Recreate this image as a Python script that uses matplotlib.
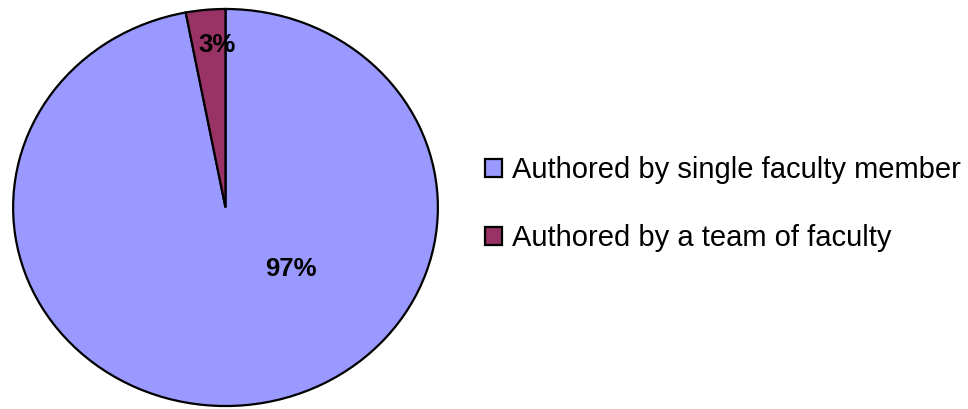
import matplotlib.pyplot as plt

# data
labels = ["Authored by single faculty member", "Authored by a team of faculty"]
shares = [97, 3]
colors = ["#9999FF", "#993366"]

plt.rcParams['font.family'] = ['Liberation Sans', 'DejaVu Sans']

fig = plt.figure(figsize=(9.68, 4.09), dpi=100)
ax = fig.add_axes([11 / 968, 1 / 409, 429 / 968, 401 / 409])

wedges, _ = ax.pie(shares, colors=colors, startangle=90, counterclock=False,
                   radius=1, wedgeprops=dict(edgecolor='black', linewidth=1.6))
ax.set_aspect('auto')
ax.set_xlim(-1.01, 1.01)
ax.set_ylim(-1.01, 1.01)

# percentage labels (positions picked to match the original layout)
label_pos = [(0.31, -0.31), (-0.04, 0.82)]
for val, (x, y) in zip(shares, label_pos):
    ax.text(x, y, f"{val}%", ha='center', va='center', fontsize=18.5, fontweight='bold')

fig.legend(wedges, labels, loc='center left', bbox_to_anchor=(485 / 968, 1 - 204 / 409),
           frameon=False, fontsize=21, handlelength=0.58, handleheight=0.58,
           handletextpad=0.34, labelspacing=1.38, borderpad=0, borderaxespad=0)

fig.savefig("out.png", dpi=100)
